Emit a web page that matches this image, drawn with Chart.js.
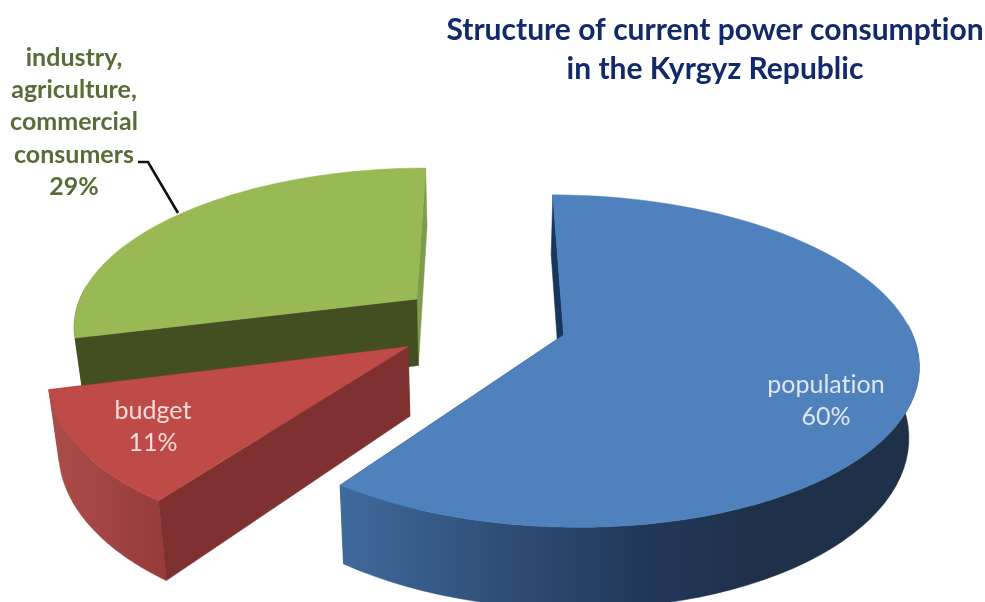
<!DOCTYPE html>
<html>
<head>
<meta charset="utf-8">
<style>
  body { margin: 0; background: #fff; }
  canvas { display: block; }
</style>
<script src="https://cdn.jsdelivr.net/npm/chart.js@4"></script>
</head>
<body>
<canvas id="chart" width="985" height="602"></canvas>
<script>
const categories = ["population", "budget", "industry, agriculture, commercial consumers"];
const values = [60, 11, 29];
const labelLines = [["population"], ["budget"], ["industry,", "agriculture,", "commercial", "consumers"]];
const titleLines = ["Structure of current power consumption", "in the Kyrgyz Republic"];

// explode distance of each slice, chart.js divides this by 4 when it draws an arc
const sliceOffsets = [190, 206, 200];
const topColors = ["#4f81bd", "#be4b48", "#98b954"];
const startFaceColors = ["#17365d", "#7f3030", "#434f20"];
const endFaceColors = ["#2c4a70", "#7f3030", "#7f9c4a"];
const rimColors = [
  [[333, "#416b9e"], [500, "#2f4e77"], [640, "#22385a"], [760, "#1f3049"], [918, "#1f3049"]],
  [[52, "#ab4c4a"], [160, "#973c3b"]],
  [[76, "#434f20"], [420, "#434f20"]],
];

// tilt and perspective of the pie
const view = { cx: 484, cy: 323, radius: 345, squash: 0.459, persp: 0.1558, depth: 68, taper: 0.024 };

function project(X, Y) {
  const k = 1 / (1 - view.persp * Y);
  return {
    x: view.cx + view.radius * X * k,
    y: view.cy + view.radius * view.squash * Y * k,
    k: k,
  };
}

function lower(p) {
  return {
    x: view.cx + (p.x - view.cx) * (1 - view.taper),
    y: p.y + view.depth * p.k,
  };
}

function fillPoly(ctx, pts, fill) {
  ctx.beginPath();
  pts.forEach((p, i) => (i ? ctx.lineTo(p.x, p.y) : ctx.moveTo(p.x, p.y)));
  ctx.closePath();
  ctx.fillStyle = fill;
  ctx.fill();
  ctx.strokeStyle = fill;
  ctx.lineWidth = 0.5;
  ctx.stroke();
}

function drawSlice(ctx, arc, i) {
  const { startAngle, endAngle, outerRadius } = arc.getProps(["startAngle", "endAngle", "outerRadius"], true);
  const mid = (startAngle + endAngle) / 2;
  const shift = arc.options.offset / 4 / outerRadius;
  const ox = Math.cos(mid) * shift;
  const oy = Math.sin(mid) * shift;

  const apex = project(ox, oy);
  const rim = [];
  const frontRim = []; // the part of the round side that faces the viewer
  const steps = 80;
  for (let s = 0; s <= steps; s++) {
    const a = startAngle + ((endAngle - startAngle) * s) / steps;
    const p = project(ox + Math.cos(a), oy + Math.sin(a));
    rim.push(p);
    if (Math.sin(a) > -0.1) frontRim.push(p);
  }
  const first = rim[0];
  const last = rim[steps];

  const x0 = rimColors[i][0][0];
  const x1 = rimColors[i][rimColors[i].length - 1][0];
  const grad = ctx.createLinearGradient(x0, 0, x1, 0);
  rimColors[i].forEach(([x, c]) => grad.addColorStop((x - x0) / (x1 - x0), c));

  // back to front: far cut face, round side, near cut face, top
  fillPoly(ctx, [apex, last, lower(last), lower(apex)], endFaceColors[i]);
  fillPoly(ctx, frontRim.concat(frontRim.map(lower).reverse()), grad);
  fillPoly(ctx, [apex, first, lower(first), lower(apex)], startFaceColors[i]);
  fillPoly(ctx, [apex].concat(rim), topColors[i]);
}

const pie3d = {
  id: "pie3d",
  beforeDatasetDraw(chart, args) {
    const ctx = chart.ctx;
    const arcs = args.meta.data;
    ctx.save();
    [2, 1, 0].forEach((i) => drawSlice(ctx, arcs[i], i));
    ctx.restore();
    return false;
  },
  afterDraw(chart) {
    const ctx = chart.ctx;
    ctx.save();
    ctx.textAlign = "center";
    ctx.textBaseline = "middle";
    ctx.letterSpacing = "0.01px"; // keeps Lato from joining "ti"

    ctx.font = "bold 30px Lato";
    ctx.fillStyle = "#12296a";
    ctx.fillText(titleLines[0], 715, 30);
    ctx.fillText(titleLines[1], 715, 69);

    ctx.font = "25px Lato";
    ctx.fillStyle = "#dfe7f2";
    ctx.fillText(labelLines[0][0], 826, 385);
    ctx.fillText(values[0] + "%", 826, 417);

    ctx.fillStyle = "#f6ddd9";
    ctx.fillText(labelLines[1][0], 153, 411);
    ctx.fillText(values[1] + "%", 153, 443);

    ctx.font = "bold 25px Lato";
    ctx.fillStyle = "#5a6b37";
    labelLines[2].forEach((line, i) => ctx.fillText(line, 74, 58 + i * 32.2));
    ctx.fillText(values[2] + "%", 74, 187);

    // leader line of the green slice
    ctx.strokeStyle = "#111";
    ctx.lineWidth = 2.6;
    ctx.beginPath();
    ctx.moveTo(138, 162);
    ctx.lineTo(148, 162);
    ctx.lineTo(178, 213);
    ctx.stroke();
    ctx.restore();
  },
};

new Chart(document.getElementById("chart"), {
  type: "pie",
  data: {
    labels: categories,
    datasets: [
      {
        data: values,
        backgroundColor: topColors,
        borderWidth: 0,
        offset: sliceOffsets,
      },
    ],
  },
  options: {
    responsive: false,
    animation: false,
    plugins: {
      legend: { display: false },
      tooltip: { enabled: false },
    },
  },
  plugins: [pie3d],
});
</script>
</body>
</html>
